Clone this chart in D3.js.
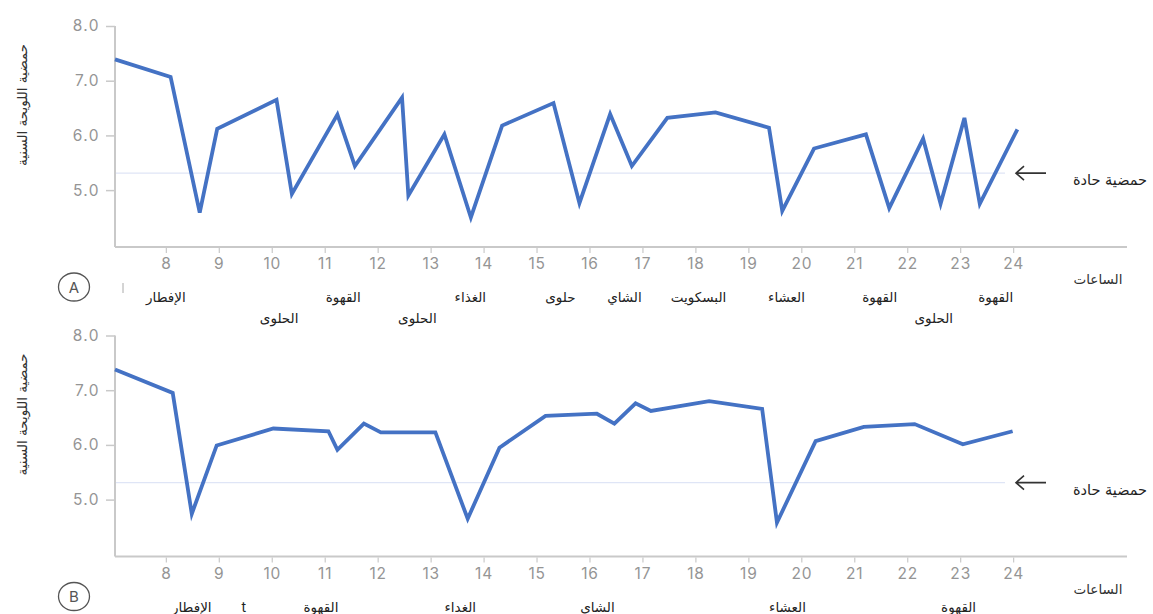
<!DOCTYPE html>
<html>
<head>
<meta charset="utf-8">
<script src="https://cdn.jsdelivr.net/npm/d3@7"></script>
<style>
  html, body { margin: 0; padding: 0; background: #ffffff; }
  svg { display: block; }
  .tick text { font-family: Inter, "Open Sans", sans-serif; }
</style>
</head>
<body>
<svg id="chart" width="1153" height="614"></svg>
<script>
// ---- data ----
const yTicks = [5, 6, 7, 8];
const xTicks = [8, 9, 10, 11, 12, 13, 14, 15, 16, 17, 18, 19, 20, 21, 22, 23, 24];
const thresholdPH = 5.31;

const hoursA = [7.04, 8.09, 8.64, 8.97, 10.09, 10.38, 11.24, 11.57, 12.46, 12.58, 13.26, 13.76, 14.35, 15.32, 15.81, 16.39, 16.80, 17.47, 18.38, 19.39, 19.64, 20.24, 21.22, 21.66, 22.30, 22.63, 23.08, 23.37, 24.08];
const phA    = [7.39, 7.07, 4.59, 6.12, 6.65, 4.93, 6.38, 5.44, 6.69, 4.90, 6.02, 4.50, 6.18, 6.59, 4.76, 6.39, 5.44, 6.32, 6.42, 6.14, 4.62, 5.76, 6.02, 4.67, 5.94, 4.75, 6.32, 4.75, 6.11];

const hoursB = [7.04, 8.13, 8.49, 8.96, 10.03, 11.07, 11.24, 11.74, 12.06, 13.09, 13.70, 14.30, 15.17, 16.14, 16.47, 16.87, 17.16, 18.26, 19.26, 19.54, 20.27, 21.18, 22.14, 23.05, 23.99];
const phB    = [7.38, 6.95, 4.74, 5.99, 6.30, 6.25, 5.91, 6.39, 6.23, 6.23, 4.65, 5.95, 6.53, 6.57, 6.39, 6.76, 6.62, 6.80, 6.66, 4.58, 6.07, 6.33, 6.38, 6.01, 6.25];

const mealTextA = ["الإفطار", "الحلوى", "القهوة", "الحلوى", "الغذاء", "حلوى", "الشاي", "البسكويت", "العشاء", "القهوة", "الحلوى", "القهوة"];
const mealHourA = [8.0, 10.14, 11.35, 12.75, 13.75, 15.45, 16.66, 18.06, 19.72, 21.48, 22.5, 23.67];
const mealRowA  = [1, 2, 1, 2, 1, 1, 1, 1, 1, 1, 2, 1];

const mealTextB = ["الإفطار", "t", "القهوة", "الغداء", "الشاي", "العشاء", "القهوة"];
const mealHourB = [8.49, 9.47, 10.93, 13.56, 16.15, 19.74, 22.97];
const mealRowB  = [1, 1, 1, 1, 1, 1, 1];

const yTitle = "حمضية اللويحة السنية";
const xTitle = "الساعات";
const thresholdLabel = "حمضية حادة";
const panelLetters = ["A", "B"];

// ---- drawing ----
const svg = d3.select("#chart");
const x = d3.scaleLinear().domain([7.04, 26.15]).range([115, 1127]);
const y = d3.scaleLinear().domain([3.96, 8]).range([247, 26]);

const lineColor = "#4472c4";
const axisColor = "#c9c9c9";
const arabicFont = "'DejaVu Sans', 'Noto Sans', sans-serif";

function panel(offsetY, hours, ph, mealText, mealHour, mealRow, letter, extraMark) {
  const g = svg.append("g").attr("transform", `translate(0,${offsetY})`);

  // threshold line
  g.append("line")
    .attr("x1", x.range()[0]).attr("x2", 1005)
    .attr("y1", y(thresholdPH)).attr("y2", y(thresholdPH))
    .attr("stroke", "#dfe5f6").attr("stroke-width", 1.3);

  // y axis
  const yAx = g.append("g").attr("transform", `translate(${x.range()[0]},0)`)
    .call(d3.axisLeft(y).tickValues(yTicks).tickFormat(d3.format(".1f")).tickSize(9).tickPadding(6));
  yAx.select(".domain").attr("stroke", axisColor).attr("stroke-width", 2)
    .attr("d", `M0,${y.range()[1]}V${y.range()[0]}`);
  yAx.selectAll(".tick line").attr("stroke", axisColor).attr("stroke-width", 1.5);
  yAx.selectAll(".tick text").attr("fill", "#959595").attr("font-size", 15.5)
    .attr("letter-spacing", 1.4);

  // x axis
  const xAx = g.append("g").attr("transform", `translate(0,${y.range()[0]})`)
    .call(d3.axisBottom(x).tickValues(xTicks).tickFormat(d3.format("d")).tickSize(6).tickPadding(5));
  xAx.select(".domain").attr("stroke", axisColor).attr("stroke-width", 2)
    .attr("d", `M${x.range()[0]},0H${x.range()[1]}`);
  xAx.selectAll(".tick line").attr("stroke", axisColor).attr("stroke-width", 1.2)
    .attr("y1", 1);
  xAx.selectAll(".tick text").attr("fill", "#959595").attr("font-size", 15.5)
    .attr("letter-spacing", 0.8);

  // data line
  const pts = hours.map((h, i) => [h, ph[i]]);
  g.append("path")
    .datum(pts)
    .attr("fill", "none")
    .attr("stroke", lineColor)
    .attr("stroke-width", 3.8)
    .attr("stroke-linejoin", "miter")
    .attr("d", d3.line().x(d => x(d[0])).y(d => y(d[1])));

  // arrow and threshold label
  const ty = y(thresholdPH);
  g.append("path")
    .attr("d", `M1046,${ty}H1016M1024,${ty - 7}L1016,${ty}L1024,${ty + 7}`)
    .attr("fill", "none").attr("stroke", "#333").attr("stroke-width", 1.6);
  g.append("text")
    .attr("x", 1110).attr("y", ty + 12)
    .attr("text-anchor", "middle")
    .attr("font-family", arabicFont).attr("font-size", 14.5).attr("fill", "#222")
    .text(thresholdLabel);

  // y title
  g.append("text")
    .attr("transform", `translate(27,${105}) rotate(-90)`)
    .attr("text-anchor", "middle")
    .attr("font-family", arabicFont).attr("font-size", 13.5).attr("fill", "#333")
    .text(yTitle);

  // x title
  g.append("text")
    .attr("x", 1098).attr("y", y.range()[0] + 37)
    .attr("text-anchor", "middle")
    .attr("font-family", arabicFont).attr("font-size", 13.5).attr("fill", "#333")
    .text(xTitle);

  // panel letter
  const cy = y.range()[0] + 40;
  g.append("ellipse").attr("cx", 74).attr("cy", cy).attr("rx", 15.5).attr("ry", 14)
    .attr("fill", "none").attr("stroke", "#555").attr("stroke-width", 1.3);
  g.append("text").attr("x", 74).attr("y", cy + 5.5)
    .attr("text-anchor", "middle")
    .attr("font-family", "Inter, 'Open Sans', sans-serif").attr("font-size", 15).attr("fill", "#555")
    .text(letter);

  // meal labels
  const rowY = r => y.range()[0] + (r === 1 ? 55 : 76);
  g.selectAll("text.meal")
    .data(mealText.map((t, i) => ({ t, h: mealHour[i], r: mealRow[i] })))
    .join("text")
    .attr("class", "meal")
    .attr("x", d => x(d.h))
    .attr("y", d => rowY(d.r))
    .attr("text-anchor", "middle")
    .attr("font-family", d => d.t === "t" ? "Inter, sans-serif" : arabicFont)
    .attr("font-size", d => d.t === "t" ? 14 : 13.5)
    .attr("fill", "#222")
    .text(d => d.t);

  if (extraMark) {
    g.append("line").attr("x1", 123).attr("x2", 123)
      .attr("y1", y.range()[0] + 36).attr("y2", y.range()[0] + 46)
      .attr("stroke", "#aaa").attr("stroke-width", 1);
  }
}

panel(0, hoursA, phA, mealTextA, mealHourA, mealRowA, panelLetters[0], true);
panel(309.5, hoursB, phB, mealTextB, mealHourB, mealRowB, panelLetters[1], false);
</script>
</body>
</html>
